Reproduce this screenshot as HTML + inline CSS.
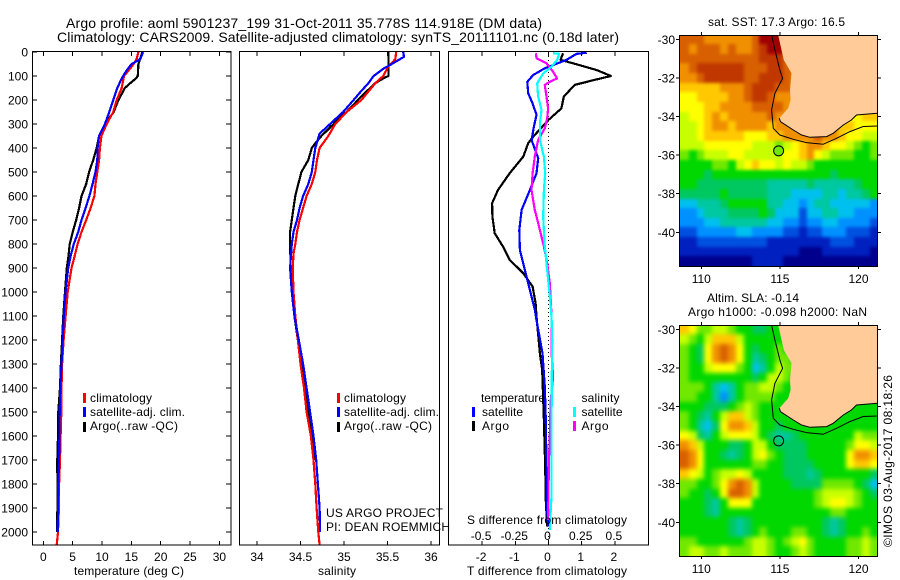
<!DOCTYPE html>
<html>
<head>
<meta charset="utf-8">
<title>Argo profile 5901237_199</title>
<style>
html,body{margin:0;padding:0;background:#fff;width:900px;height:580px;overflow:hidden}
svg{display:block}
text{font-family:"Liberation Sans",sans-serif;font-size:12px;fill:#000}
.title{font-size:14px}
</style>
</head>
<body>
<svg id="fig" width="900" height="580" viewBox="0 0 900 580" xmlns="http://www.w3.org/2000/svg">
  <defs>
    <filter id="soft1" filterUnits="userSpaceOnUse" x="640" y="0" width="260" height="300" color-interpolation-filters="sRGB"><feGaussianBlur stdDeviation="1.6"/></filter>
    <filter id="soft2" filterUnits="userSpaceOnUse" x="640" y="290" width="260" height="290" color-interpolation-filters="sRGB"><feGaussianBlur stdDeviation="2.5"/></filter>
    <clipPath id="clipm1"><rect x="680" y="35" width="197" height="231"/></clipPath>
    <clipPath id="clipm2"><rect x="680" y="325" width="197" height="231"/></clipPath>
  </defs>
  <text class="title" x="66" y="28" textLength="476">Argo profile: aoml 5901237_199 31-Oct-2011 35.778S 114.918E (DM data)</text>
  <text class="title" x="57" y="42" textLength="562">Climatology: CARS2009. Satellite-adjusted climatology: synTS_20111101.nc (0.18d later)</text>

  <g id="p1"></g>
  <g id="p2"></g>
  <g id="p3"></g>
  <g id="m1"></g>
  <g id="m2"></g>

  <text x="74" y="575" textLength="110">temperature (deg C)</text>
  <text x="318" y="575" textLength="38">salinity</text>
  <text x="467" y="575" textLength="160">T difference from climatology</text>
  <text x="467" y="524" textLength="160">S difference from climatology</text>

  <g>
    <rect x="83" y="393" width="3" height="10" fill="#ff0000"/>
    <rect x="83" y="407" width="3" height="10" fill="#0000ff"/>
    <rect x="83" y="422" width="3" height="10" fill="#000000"/>
    <text x="90" y="402" textLength="62">climatology</text>
    <text x="90" y="416" textLength="95">satellite-adj. clim.</text>
    <text x="90" y="430" textLength="88">Argo(..raw -QC)</text>
  </g>
  <g>
    <rect x="337" y="393" width="3" height="10" fill="#ff0000"/>
    <rect x="337" y="407" width="3" height="10" fill="#0000ff"/>
    <rect x="337" y="422" width="3" height="10" fill="#000000"/>
    <text x="344" y="402" textLength="62">climatology</text>
    <text x="344" y="416" textLength="95">satellite-adj. clim.</text>
    <text x="344" y="430" textLength="88">Argo(..raw -QC)</text>
  </g>
  <text x="326" y="517" textLength="117">US ARGO PROJECT</text>
  <text x="326" y="531" textLength="124">PI: DEAN ROEMMICH</text>
  <g>
    <text x="481" y="402" textLength="64">temperature</text>
    <text x="482" y="416" textLength="41">satellite</text>
    <text x="482" y="430" textLength="27">Argo</text>
    <rect x="472" y="407" width="3" height="10" fill="#0000ff"/>
    <rect x="472" y="421" width="3" height="10" fill="#000000"/>
    <text x="581.5" y="402" textLength="38">salinity</text>
    <text x="581.5" y="416" textLength="41">satellite</text>
    <text x="581.5" y="430" textLength="27">Argo</text>
    <rect x="573" y="407" width="3" height="10" fill="#00ffff"/>
    <rect x="573" y="421" width="3" height="10" fill="#ff00ff"/>
  </g>

  <text x="708" y="26" textLength="137">sat. SST: 17.3 Argo: 16.5</text>
  <text x="707" y="302" textLength="92">Altim. SLA: -0.14</text>
  <text x="688" y="316" textLength="179">Argo h1000: -0.098 h2000: NaN</text>
  <text transform="translate(892,547) rotate(-90)" textLength="172">©IMOS 03-Aug-2017 08:18:26</text>
</svg>

<script>
// ---------- Tick labels ----------
const depthTicks = [0,100,200,300,400,500,600,700,800,900,1000,1100,1200,1300,1400,1500,1600,1700,1800,1900,2000];
const tempTicks = [0,5,10,15,20,25,30];
const salTicks = [34,34.5,35,35.5,36];
const salTickLabels = ['34','34.5','35','35.5','36'];
const tDiffTicks = [-2,-1,0,1,2];
const sDiffTicks = [-0.5,-0.25,0,0.25,0.5];
const sDiffTickLabels = ['-0.5','-0.25','0','0.25','0.5'];
const lonTicks = [110,115,120];
const latTicks = [-30,-32,-34,-36,-38,-40];

// ---------- Temperature profiles ----------
const tempArgoDepth = [0,50,100,110,130,150,200,250,300,350,400,450,500,550,600,650,700,750,800,850,900,1000,1100,1200,1300,1400,1500,1600,1700,1800,1900,2000];
const tempArgoValue = [16.9,16.2,16.1,15.8,14.8,13.9,12.8,12,10.5,9.5,9.1,8.5,7.8,7.3,6.5,6.1,5.6,5,4.5,4.3,4,3.7,3.4,3.2,3,2.85,2.56,2.5,2.39,2.4,2.4,2.35];
const tempClimDepth = [0,30,60,100,150,200,250,300,350,400,450,500,550,600,650,700,750,800,850,900,1000,1100,1200,1300,1400,1500,1600,1700,1800,1900,2000,2054];
const tempClimValue = [16.2,15.9,15.1,13.75,13.35,12.5,11.9,10.8,9.9,9.65,9.5,9.2,8.9,8.7,8.05,7.3,6.5,5.85,5.35,4.8,4.15,3.8,3.45,3.2,3.1,3.07,2.95,2.85,2.7,2.65,2.5,2.28];
const tempSatDepth = [0,30,50,80,110,150,200,250,300,350,400,450,500,550,600,650,700,750,800,850,900,1000,1100,1200,1300,1400,1500,1600,1700,1800,1900,2000];
const tempSatValue = [17,16.5,15.05,14.1,13.35,12.6,11.9,11.25,10.5,9.5,9.25,9.2,8.9,8.4,7.85,7.2,6.5,5.95,5.2,4.65,4.25,3.8,3.5,3.3,3.1,2.9,2.8,2.75,2.7,2.55,2.5,2.45];

// ---------- Salinity profiles ----------
const salArgoDepth = [0,50,100,110,130,150,200,250,280,300,350,380,400,450,500,550,600,650,700,750,800,900,1000,1100,1200,1300,1400,1500,1600,1700];
const salArgoValue = [35.51,35.51,35.51,35.45,35.36,35.3,35.16,35.03,34.93,34.88,34.74,34.67,34.63,34.59,34.51,34.475,34.44,34.42,34.4,34.38,34.38,34.387,34.42,34.43,34.47,34.51,34.55,34.59,34.63,34.66];
const salClimDepth = [0,30,60,100,130,200,250,300,350,400,450,500,550,600,650,700,750,800,840,900,1000,1100,1200,1300,1400,1500,1600,1700,1800,1900,2000,2054];
const salClimValue = [35.6,35.59,35.51,35.45,35.36,35.2,35.03,34.9,34.82,34.72,34.69,34.67,34.63,34.57,34.53,34.49,34.46,34.44,34.42,34.41,34.42,34.44,34.47,34.5,34.54,34.57,34.62,34.65,34.67,34.685,34.705,34.72];
const salSatDepth = [0,20,50,70,100,130,170,200,250,280,300,340,400,450,500,550,600,650,700,750,800,900,1000,1100,1200,1300,1400,1500,1600,1700,1800,1900,2000];
const salSatValue = [35.68,35.69,35.55,35.45,35.34,35.28,35.18,35.11,34.99,34.9,34.84,34.72,34.67,34.65,34.63,34.59,34.53,34.49,34.46,34.42,34.4,34.38,34.4,34.43,34.48,34.53,34.57,34.61,34.65,34.68,34.7,34.72,34.725];

// ---------- Difference profiles ----------
const dTArgoDepth = [5,33,47,75,100,114,137,186,235,283,353,380,436,505,575,630,686,755,811,866,922,977,1047,1102,1256,1325,1533,1728,1867,1978];
const dTArgoValue = [0.44,0.36,0.74,1.45,1.88,1.45,0.79,0.46,0.39,0,-0.46,-0.61,-0.76,-1.17,-1.52,-1.7,-1.69,-1.62,-1.37,-1.17,-0.76,-0.48,-0.39,-0.36,-0.26,-0.19,-0.14,-0.1,-0.08,-0.04];
const dTSatDepth = [3,8,33,68,96,124,172,214,262,311,367,443,505,575,658,742,825,908,992,1075,1117,1256,1394,1533,1728,1867,1978];
const dTSatValue = [1.15,0.84,0.54,-0.11,-0.46,-0.64,-0.61,-0.48,-0.36,-0.44,-0.51,-0.31,-0.36,-0.56,-0.81,-0.88,-0.86,-0.71,-0.56,-0.41,-0.36,-0.18,-0.11,-0.08,-0.06,-0.06,-0.01];
const dSArgoDepth = [5,26,47,82,110,124,137,186,235,276,318,367,436,505,575,658,742,811,880,964,1019,1102,1256,1353,1464,1547,1714,1950];
const dSArgoValue = [-0.095,-0.09,-0.015,0.035,0.065,0.01,-0.028,-0.015,-0.003,-0.01,-0.028,-0.078,-0.103,-0.12,-0.128,-0.103,-0.065,-0.035,-0.01,0.01,0.015,0.023,0.023,0.035,0.015,0.013,0.003,-0.003];
const dSSatDepth = [5,8,33,61,89,130,186,242,297,367,436,505,575,686,797,880,964,1047,1110,1200,1353,1533,1839,1992];
const dSSatValue = [0.035,0.08,0.065,0.023,-0.04,-0.085,-0.078,-0.053,-0.065,-0.065,-0.035,-0.025,-0.035,-0.04,-0.03,-0.015,0,0.015,0.023,0.028,0.025,0.023,0.023,0.01];

// ---------- Map heatmaps (colour level per 0.5 degree cell, north to south, west to east) ----------
const sstGrid = [
[13,13,13,12,12,12,12,12,12,13,15,15,15,14,14,10,10,10,10,10,10,10,10,10,10],
[13,12,13,13,13,12,13,12,12,13,14,15,15,14,14,10,10,10,10,10,10,10,10,10,10],
[13,13,13,13,13,13,13,13,13,13,14,14,14,13,13,10,10,10,10,10,10,10,10,10,10],
[12,13,14,14,14,14,14,14,13,13,13,14,14,13,13,10,10,10,10,10,10,10,10,10,10],
[12,12,13,14,14,14,14,14,13,13,14,14,14,13,12,10,10,10,10,10,10,10,10,10,10],
[11,11,11,11,11,12,12,12,13,14,14,14,13,13,12,10,10,10,10,10,10,10,10,10,10],
[10,10,11,11,11,11,12,12,13,14,14,13,12,12,12,10,10,10,10,10,10,10,10,10,10],
[10,10,10,11,11,12,12,12,12,13,13,13,13,12,11,10,10,10,10,10,10,10,10,10,10],
[9,10,10,11,12,11,12,12,12,12,12,13,12,12,12,10,10,10,10,10,10,10,10,11,11],
[9,9,10,11,12,12,11,12,12,12,12,11,12,12,12,12,12,12,12,12,11,11,10,10,10],
[9,9,10,11,11,11,11,11,10,10,10,11,11,12,12,12,12,13,12,12,11,10,10,9,9],
[9,9,9,10,10,10,10,10,10,9,9,9,8,9,10,11,12,12,11,10,10,9,8,7,8],
[8,7,8,9,9,9,10,10,9,9,9,9,9,10,10,11,12,10,9,8,8,8,7,7,8],
[7,7,7,7,8,8,7,9,10,11,10,10,9,10,9,9,8,7,7,7,7,7,7,7,7],
[7,7,7,6,7,7,7,7,7,7,7,7,7,7,7,7,7,7,7,6,7,7,7,7,7],
[7,7,6,6,6,6,6,6,6,6,6,5,5,5,5,5,6,5,5,5,5,5,6,7,7],
[6,6,6,6,6,7,6,6,6,6,6,5,5,5,4,4,4,4,5,5,4,5,5,6,7],
[4,4,5,5,5,6,7,7,7,7,7,5,5,4,4,3,4,5,5,4,4,4,4,4,3],
[3,3,4,5,5,5,6,6,6,6,7,6,4,4,4,2,4,4,5,5,4,4,3,3,3],
[3,3,3,4,4,5,5,5,5,5,5,4,4,3,3,2,3,3,4,4,3,3,3,3,2],
[2,2,3,3,3,3,3,4,4,3,3,3,3,2,2,1,2,2,3,3,3,2,2,2,1],
[1,1,2,2,2,2,2,2,2,2,2,1,1,1,1,1,1,1,1,2,2,2,1,1,1],
[1,1,1,1,1,1,1,1,1,1,1,1,1,1,1,0,0,0,1,1,1,1,1,1,0],
[0,0,0,0,0,0,0,0,0,1,1,1,1,0,0,0,0,0,0,0,0,0,0,0,0]
];
const slaGrid = [
[11,10,8,8,9,9,8,7,7,6,6,7,7,7,7,7,7,7,7,7,7,7,7,7,7],
[9,8,7,9,11,11,11,9,7,7,7,7,7,7,7,7,7,7,7,7,7,7,7,7,7],
[8,7,6,10,12,13,12,10,7,6,7,7,8,7,7,7,7,7,7,7,7,7,7,7,7],
[8,7,6,10,12,13,12,10,7,5,6,7,8,8,7,7,7,7,7,7,7,7,7,7,7],
[8,7,7,9,10,10,10,8,7,4,5,7,9,8,8,7,7,7,7,7,7,7,7,7,7],
[8,7,7,7,7,7,7,7,7,6,7,9,9,8,7,7,7,7,7,7,7,7,7,7,7],
[8,8,8,7,5,4,5,7,8,8,9,9,8,7,7,7,7,7,7,7,7,7,7,7,7],
[8,8,7,7,5,3,5,7,8,8,8,8,7,7,7,7,7,7,7,7,7,7,7,7,7],
[7,7,7,6,6,6,7,8,9,8,7,7,7,7,7,7,7,7,7,7,7,7,7,7,7],
[8,7,6,5,7,9,11,11,9,8,7,7,7,7,7,7,7,7,7,7,7,7,7,7,7],
[8,7,5,4,6,10,12,12,11,9,7,7,6,7,7,7,7,7,7,7,7,7,7,7,7],
[10,9,6,5,7,9,10,10,10,9,7,6,5,5,6,7,7,7,7,7,7,7,9,8,8],
[12,11,9,7,7,7,6,6,7,9,9,7,6,6,6,6,7,7,7,7,7,8,10,10,9],
[13,12,10,7,7,6,5,6,7,9,10,8,7,6,6,6,7,7,7,7,7,10,12,12,11],
[13,12,10,7,7,7,7,7,7,8,8,7,7,6,6,6,6,7,7,7,7,10,11,11,10],
[11,10,9,7,8,9,9,10,9,7,7,7,7,6,6,6,5,6,7,7,7,7,7,7,6],
[8,8,7,7,8,10,12,13,12,9,7,7,7,7,6,6,6,6,8,8,8,8,7,6,4],
[8,7,7,6,7,10,13,13,12,9,7,7,7,7,7,7,7,8,9,9,9,9,8,7,6],
[7,7,7,6,5,7,10,10,10,7,7,7,7,7,7,7,7,8,9,10,10,9,8,7,7],
[7,7,7,6,5,7,7,7,7,7,7,7,7,7,7,7,7,7,7,8,8,7,7,7,7],
[7,7,7,7,7,7,6,5,6,7,7,7,7,7,7,7,7,7,6,5,6,7,7,7,7],
[7,7,7,7,7,7,6,5,6,7,8,7,7,7,8,8,7,7,6,5,6,7,7,8,7],
[8,8,7,7,7,7,7,7,8,9,9,8,7,8,9,10,8,7,7,7,7,8,8,9,8],
[8,9,9,8,8,9,8,8,8,9,9,8,7,7,8,9,8,7,7,7,7,8,8,9,8]
];
const levelColors = ['#00008c','#0020c0','#0050e0','#0090ff','#00c0f0','#00c8a0','#00c860','#00d800','#70e800','#c8ff00','#ffff00','#ffc800','#f09000','#d86000','#c03800','#a00000'];

// ---------- Coastline and shelf contour (lon, lat) ----------
const coastLon = [114.89,115.25,115.74,115.64,115.68,115.53,114.96,115.04,115.85,116.38,116.91,117.97,118.39,119.03,119.55,119.87,121.2];
const coastLat = [-29.78,-31.07,-31.76,-32.63,-33.14,-33.57,-34.09,-34.27,-34.7,-34.96,-35.08,-35.04,-34.87,-34.44,-34.18,-33.92,-33.83];
const shelfLon = [114.47,114.68,115,115.17,114.68,114.47,114.58,115,115.85,116.69,117.75,118.6,119.45,120.3,121.2];
const shelfLat = [-29.78,-30.55,-31.59,-32.02,-32.8,-33.66,-34.61,-34.96,-35.18,-35.35,-35.44,-35.13,-34.78,-34.52,-34.49];
const argoLon = 114.918;
const argoLat = -35.778;

// ---------- Axis functions ----------
const yOf = d => 52 + 0.24 * d;
const tempX = t => 43.3 + 5.87 * t;
const salX = s => 257 + 87 * (s - 34);
const dTX = v => 548.5 + 33.2 * v;
const dSX = v => 548.5 + 132.8 * v;
const lonX = lon => 701.3 + 15.72 * (lon - 110);
const lat1Y = lat => 39.3 - 19.3 * (lat + 30);
const lat2Y = lat => 329.3 - 19.3 * (lat + 30);

const NS = 'http://www.w3.org/2000/svg';
function mk(parent, tag, attrs) {
  const e = document.createElementNS(NS, tag);
  for (const k in attrs) e.setAttribute(k, attrs[k]);
  parent.appendChild(e);
  return e;
}
function tick(parent, x1, y1, x2, y2) {
  const el = mk(parent, 'line', {x1, y1, x2, y2, stroke: '#000', 'stroke-width': 1, 'shape-rendering': 'crispEdges'});
  
  
}
function label(parent, x, y, str, anchor) {
  const el = mk(parent, 'text', {x, y, 'text-anchor': anchor});
  el.textContent = str;
  
  
}
function frame(parent, x, y, w, h) {
  const el = mk(parent, 'rect', {x, y, width: w, height: h, fill: 'none', stroke: '#000', 'stroke-width': 1, 'shape-rendering': 'crispEdges'});
  
  
}
function profile(parent, depths, values, xf, color, name) {
  const pts = depths.map((d, i) => xf(values[i]).toFixed(1) + ',' + yOf(d).toFixed(1)).join(' ');
  const el = mk(parent, 'polyline', {points: pts, fill: 'none', stroke: color, 'stroke-width': 2.2, 'shape-rendering': 'crispEdges', 'stroke-linejoin': 'round'});
  
  
}

const T = 51.5, B = 545, H = B - T;
const p1 = document.getElementById('p1');
const p2 = document.getElementById('p2');
const p3 = document.getElementById('p3');

// Panel 1: temperature
depthTicks.forEach(d => {
  tick(p1, 32, yOf(d), 37, yOf(d));
  tick(p1, 226, yOf(d), 231, yOf(d));
  label(p1, 28, yOf(d) + 4.5, String(d), 'end');
});
tempTicks.forEach(t => {
  tick(p1, tempX(t), 52, tempX(t), 56);
  tick(p1, tempX(t), 541, tempX(t), 545);
  label(p1, tempX(t), 561, String(t), 'middle');
});
profile(p1, tempArgoDepth, tempArgoValue, tempX, '#000000', 'temperature-argo-line');
profile(p1, tempClimDepth, tempClimValue, tempX, '#ff0000', 'temperature-climatology-line');
profile(p1, tempSatDepth, tempSatValue, tempX, '#0000ff', 'temperature-satellite-line');
frame(p1, 32.5, T, 198.5, H);

// Panel 2: salinity
salTicks.forEach((s, i) => {
  tick(p2, salX(s), 52, salX(s), 56);
  tick(p2, salX(s), 541, salX(s), 545);
  label(p2, salX(s), 561, salTickLabels[i], 'middle');
});
profile(p2, salArgoDepth, salArgoValue, salX, '#000000', 'salinity-argo-line');
profile(p2, salClimDepth, salClimValue, salX, '#ff0000', 'salinity-climatology-line');
profile(p2, salSatDepth, salSatValue, salX, '#0000ff', 'salinity-satellite-line');
frame(p2, 239.5, T, 200, H);

// Panel 3: differences
tDiffTicks.forEach(v => {
  tick(p3, dTX(v), 52, dTX(v), 56);
  tick(p3, dTX(v), 541, dTX(v), 545);
  label(p3, dTX(v) - 1, 561, String(v), 'middle');
});
sDiffTicks.forEach((v, i) => {
  label(p3, dSX(v) - 1, 540, sDiffTickLabels[i], 'middle');
});
const zeroLine = mk(p3, 'line', {x1: dTX(0), y1: 52, x2: dTX(0), y2: 545, stroke: '#000', 'stroke-width': 1, 'stroke-dasharray': '1 3', 'shape-rendering': 'crispEdges'});


profile(p3, dTArgoDepth, dTArgoValue, dTX, '#000000', 't-difference-argo-line');
profile(p3, dTSatDepth, dTSatValue, dTX, '#0000ff', 't-difference-satellite-line');
profile(p3, dSArgoDepth, dSArgoValue, dSX, '#ff00ff', 's-difference-argo-line');
profile(p3, dSSatDepth, dSSatValue, dSX, '#00ffff', 's-difference-satellite-line');
frame(p3, 448.5, T, 200, H);

// Maps
function pathFrom(lons, lats, latY) {
  return lons.map((v, i) => (i ? 'L' : 'M') + lonX(v).toFixed(1) + ' ' + latY(lats[i]).toFixed(1)).join(' ');
}
function drawMap(groupId, grid, latY, top, bottom, cellName, xLabelY, withFill) {
  const g = document.getElementById(groupId);
  const lonStart = 108.7, cellDeg = 0.5, latStart = -29.75;
  const clip = mk(g, 'g', {'clip-path': 'url(#clip' + groupId + ')'});
  
  
  const field = mk(clip, 'g', {filter: groupId === 'm1' ? 'url(#soft1)' : 'url(#soft2)'});
  
  
  grid.forEach((row, r) => {
    row.forEach((level, c) => {
      // outermost cells reach past the clip so smoothing stays opaque at the frame
      const x0 = Math.round(lonX(lonStart + c * cellDeg)) - (c === 0 ? 20 : 0);
      const x1 = Math.round(lonX(lonStart + (c + 1) * cellDeg)) + (c === row.length - 1 ? 20 : 0);
      const y0 = Math.round(latY(latStart - r * cellDeg)) - (r === 0 ? 20 : 0);
      const y1 = Math.round(latY(latStart - (r + 1) * cellDeg)) + (r === grid.length - 1 ? 20 : 0);
      const cell = mk(field, 'rect', {x: x0, y: y0, width: x1 - x0, height: y1 - y0, fill: levelColors[level], 'shape-rendering': 'crispEdges'});
      
      
    });
  });
  const coast = pathFrom(coastLon, coastLat, latY);
  const land = mk(g, 'path', {d: coast + ' L877 ' + latY(-33.83).toFixed(1) + ' L877 ' + top + ' L' + lonX(114.89).toFixed(1) + ' ' + top + ' Z', fill: '#ffcc99', stroke: 'none'});
  
  
  const south = pathFrom(coastLon.slice(6), coastLat.slice(6), latY);
  const southLine = mk(g, 'path', {d: south, fill: 'none', stroke: '#000', 'stroke-width': 1});
  
  
  const shelf = mk(g, 'path', {d: pathFrom(shelfLon, shelfLat, latY), fill: 'none', stroke: '#000', 'stroke-width': 1});
  
  
  const marker = mk(g, 'circle', {cx: lonX(argoLon), cy: latY(argoLat), r: 5, fill: withFill ? levelColors[8] : 'none', stroke: '#000', 'stroke-width': 1});
  
  
  frame(g, 679.5, top + 0.5, 198, bottom - top);
  lonTicks.forEach(lon => {
    tick(g, lonX(lon), top - 3, lonX(lon), top);
    tick(g, lonX(lon), bottom, lonX(lon), bottom + 3);
    label(g, lonX(lon), xLabelY, String(lon), 'middle');
  });
  latTicks.forEach(lat => {
    tick(g, 676, latY(lat), 679, latY(lat));
    tick(g, 878, latY(lat), 881, latY(lat));
    label(g, 675, latY(lat) + 4.5, String(lat), 'end');
  });
}
drawMap('m1', sstGrid, lat1Y, 35, 266, 'sst-cell', 283, true);
drawMap('m2', slaGrid, lat2Y, 325, 556, 'sla-cell', 573, false);
</script>
</body>
</html>
